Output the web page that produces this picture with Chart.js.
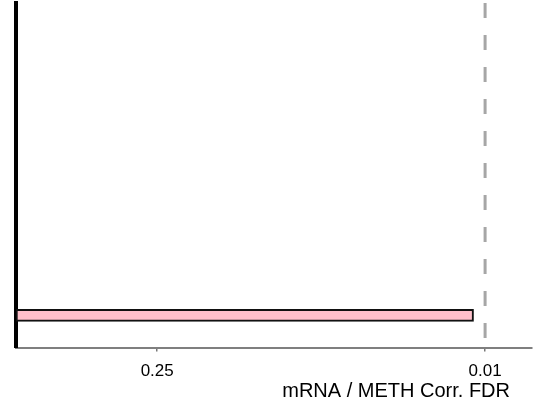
<!DOCTYPE html>
<html>
<head>
<meta charset="utf-8">
<script src="https://cdn.jsdelivr.net/npm/chart.js@4/dist/chart.umd.min.js"></script>
<style>
  html, body { margin: 0; padding: 0; background: #fff; }
  #wrap { width: 553px; height: 404px; position: relative; }
</style>
</head>
<body>
<div id="wrap"><canvas id="fdrChart"></canvas></div>
<script>
// data
var categories = ['mRNA / METH'];
var barPosition = [1];           // row of the single bar on the y scale
var fdrValues = [0.0112];        // corr. FDR of the bar
var tickLabels = ['0.25', '0.01'];
var fdrThreshold = 0.01;         // dashed cut-off line
var axisTitle = 'mRNA / METH Corr. FDR';

// x axis is -log10(FDR)
function nlog(v) { return -Math.log10(v); }
var tickValues = tickLabels.map(function (t) { return nlog(parseFloat(t)); });

var barData = fdrValues.map(function (v, i) {
    return { x: nlog(v), y: barPosition[i] };
});

// dashed threshold line + right-aligned axis title
var extrasPlugin = {
    id: 'extras',
    afterDatasetsDraw: function (chart) {
        var ctx = chart.ctx, area = chart.chartArea;
        var xs = chart.scales.x;
        var px = xs.getPixelForValue(nlog(fdrThreshold));
        ctx.save();
        ctx.strokeStyle = '#a6a6a6';
        ctx.lineWidth = 3;
        ctx.setLineDash([15, 17]);
        ctx.beginPath();
        ctx.moveTo(px, area.top);
        ctx.lineTo(px, area.bottom);
        ctx.stroke();
        ctx.restore();
    },
    afterDraw: function (chart) {
        var ctx = chart.ctx, area = chart.chartArea;
        ctx.save();
        ctx.fillStyle = '#000';
        ctx.font = '20px "Liberation Sans", Arial, sans-serif';
        ctx.textAlign = 'right';
        ctx.textBaseline = 'middle';
        ctx.fillText(axisTitle, area.right - 22, 391);
        ctx.restore();
    }
};

var ctx = document.getElementById('fdrChart').getContext('2d');
var fdrChart = new Chart(ctx, {
    type: 'bar',
    data: {
        labels: categories,
        datasets: [{
            label: categories[0],
            data: barData,
            backgroundColor: '#ffc0cb',
            borderColor: '#111',
            borderWidth: 2,
            borderSkipped: false,
            barThickness: 12
        }]
    },
    options: {
        indexAxis: 'y',
        responsive: true,
        maintainAspectRatio: false,
        animation: false,
        layout: { padding: { left: 16, right: 21, top: 3, bottom: 12 } },
        plugins: {
            legend: { display: false },
            tooltip: { enabled: false }
        },
        scales: {
            x: {
                type: 'linear',
                min: 0,
                max: 2.2,
                afterBuildTicks: function (axis) {
                    axis.ticks = tickValues.map(function (v) { return { value: v }; });
                },
                ticks: {
                    autoSkip: false,
                    maxRotation: 0,
                    padding: 10,
                    color: '#000',
                    font: { family: '"Liberation Sans", Arial, sans-serif', size: 17 },
                    callback: function (value, index) { return tickLabels[index]; }
                },
                grid: {
                    drawOnChartArea: false,
                    drawTicks: true,
                    tickLength: 4,
                    color: '#777',
                    lineWidth: 1.5
                },
                border: { display: true, color: '#7f7f7f', width: 2 }
            },
            y: {
                type: 'linear',
                min: 0,
                max: 10.7,
                offset: false,
                ticks: { display: false },
                grid: { display: false, drawTicks: false },
                border: { display: true, color: '#000', width: 4 }
            }
        }
    },
    plugins: [extrasPlugin]
});
</script>
</body>
</html>
